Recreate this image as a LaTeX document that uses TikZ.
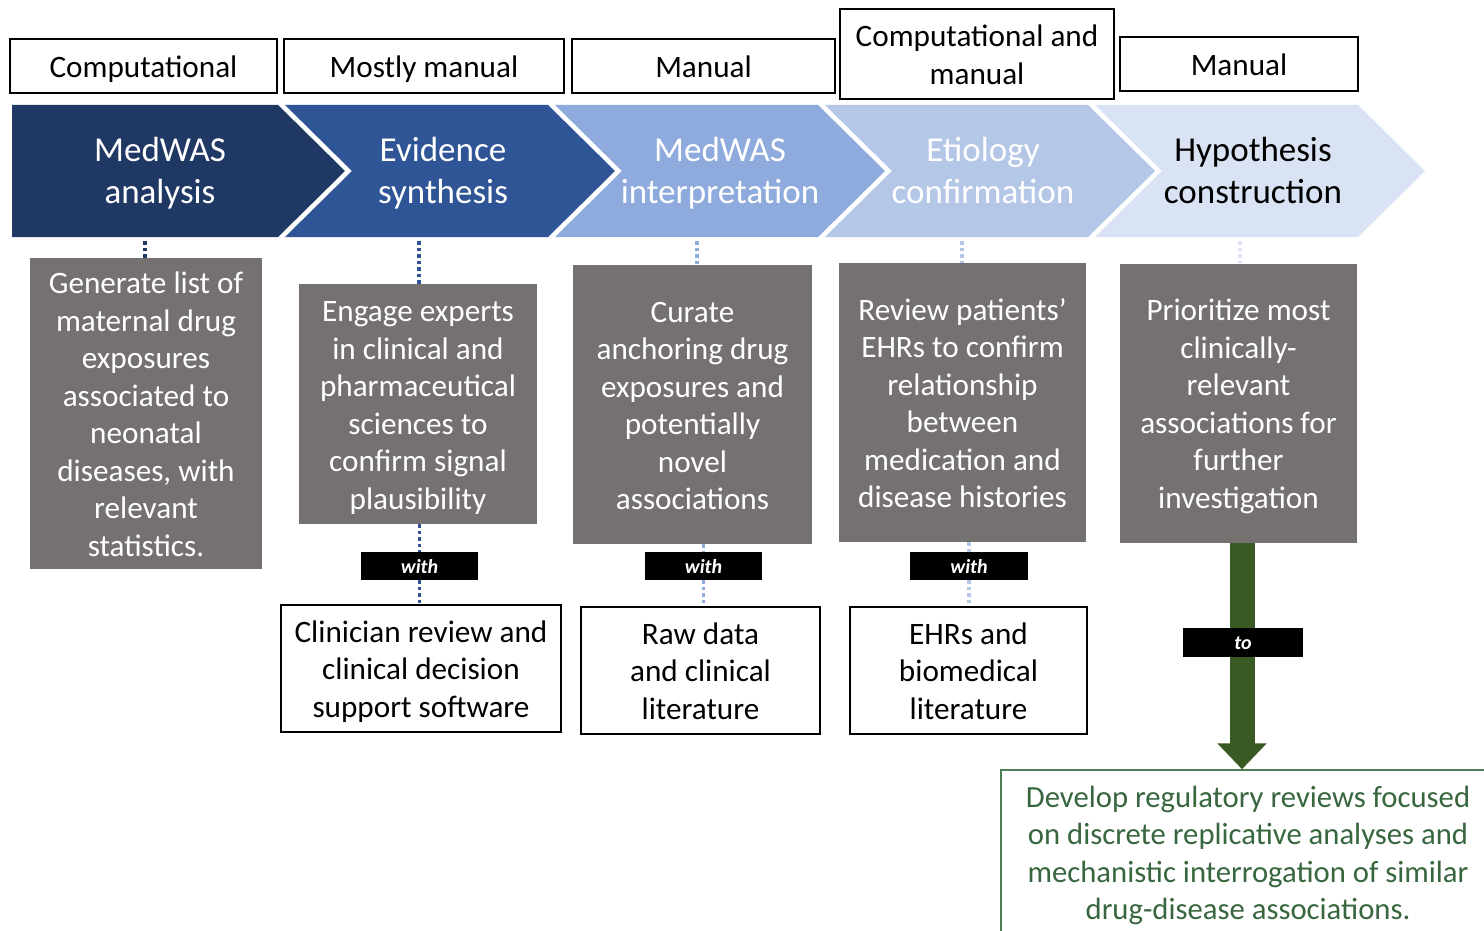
\documentclass[tikz,border=0pt]{standalone}
\usepackage{fontspec}
\setmainfont{Carlito}
\usetikzlibrary{arrows.meta}
\definecolor{chA}{HTML}{203864}
\definecolor{chB}{HTML}{2F5597}
\definecolor{chC}{HTML}{8FAADC}
\definecolor{chD}{HTML}{B4C7E7}
\definecolor{chE}{HTML}{DAE3F3}
\definecolor{graybox}{HTML}{767171}
\definecolor{arrowgreen}{HTML}{3A5A24}
\definecolor{textgreen}{HTML}{38663F}
\definecolor{bordergreen}{HTML}{4E7F52}
\newcommand{\Ta}{\rule{0pt}{34pt}}
\newcommand{\Tc}{\rule{0pt}{35.5pt}}
\newcommand{\Tt}{\rule{0pt}{21.5pt}}
\tikzset{
  bodyfont/.style={font=\fontsize{31.2}{37.5}\selectfont},
  hdr/.style={draw=black, line width=1.6pt, fill=white, align=center, bodyfont, inner sep=0pt},
  task/.style={fill=graybox, text=white, align=center, bodyfont, inner sep=0pt},
  res/.style={draw=black, line width=1.6pt, fill=white, align=center, bodyfont, inner sep=0pt},
  tag/.style={fill=black, text=white, font=\fontsize{20}{22}\selectfont\bfseries\itshape, minimum height=28pt, inner sep=0pt},
  chtext/.style={align=center, font=\fontsize{35}{42}\selectfont, inner sep=0pt},
  dots/.style={line width=3.5pt, dash pattern=on 3.5pt off 3pt},
  bigarrow/.style={draw=arrowgreen, line width=25pt, -{Triangle[width=48pt,length=26pt]}}
}
\begin{document}
\begin{tikzpicture}[x=1pt,y=-1pt]
\fill[white] (0,0) rectangle (1484,931);
\path[use as bounding box] (0,0) rectangle (1484,931);

% header boxes
\node[hdr, minimum width=267pt, minimum height=54pt] (h1) at (143.5,66) {\Ta Computational\strut};
\node[hdr, minimum width=280pt, minimum height=54pt] (h2) at (424,66) {\Ta Mostly manual\strut};
\node[hdr, minimum width=263pt, minimum height=54pt] (h3) at (703.5,66) {\Ta Manual\strut};
\node[hdr, minimum width=274pt, minimum height=90pt] (h4) at (977,54) {\Ta Computational and\\manual\strut};
\node[hdr, minimum width=238pt, minimum height=54pt] (h5) at (1239,64) {\Ta Manual\strut};

% chevrons
\fill[chA] (12,105) -- (278,105) -- (345,171) -- (278,237) -- (12,237) -- cycle;
\fill[chB] (285,105) -- (548,105) -- (615,171) -- (548,237) -- (285,237) -- (352,171) -- cycle;
\fill[chC] (555,105) -- (818,105) -- (885,171) -- (818,237) -- (555,237) -- (622,171) -- cycle;
\fill[chD] (825,105) -- (1088,105) -- (1155,171) -- (1088,237) -- (825,237) -- (892,171) -- cycle;
\fill[chE] (1095,105) -- (1358,105) -- (1425,171) -- (1358,237) -- (1095,237) -- (1162,171) -- cycle;

\node[chtext, text=white] (c1) at (160,171) {\Tc MedWAS\\analysis\strut};
\node[chtext, text=white] (c2) at (443,171) {\Tc Evidence\\synthesis\strut};
\node[chtext, text=white] (c3) at (720,171) {\Tc MedWAS\\interpretation\strut};
\node[chtext, text=white] (c4) at (983,171) {\Tc Etiology\\confirmation\strut};
\node[chtext, text=black] (c5) at (1253,171) {\Tc Hypothesis\\construction\strut};

\coordinate (cb1) at (145,241);
\coordinate (cb2) at (419,241);
\coordinate (cb3) at (697,241);
\coordinate (cb4) at (962,241);
\coordinate (cb5) at (1240,241);

% task boxes
\node[task, minimum width=232pt, minimum height=311pt] (g1) at (146,413.5)
  {\Ta Generate list of\\maternal drug\\exposures\\associated to\\neonatal\\diseases, with\\relevant\\statistics.\strut};
\node[task, minimum width=238pt, minimum height=240pt] (g2) at (418,404)
  {\Ta Engage experts\\in clinical and\\pharmaceutical\\sciences to\\confirm signal\\plausibility\strut};
\node[task, minimum width=239pt, minimum height=279pt] (g3) at (692.5,404.5)
  {\Ta Curate\\anchoring drug\\exposures and\\potentially\\novel\\associations\strut};
\node[task, minimum width=247pt, minimum height=279pt] (g4) at (962.5,402.5)
  {\Ta Review patients’\\EHRs to confirm\\relationship\\between\\medication and\\disease histories\strut};
\node[task, minimum width=237pt, minimum height=279pt] (g5) at (1238.5,403)
  {\Ta Prioritize most\\clinically-\\relevant\\associations for\\further\\investigation\strut};

% dotted connectors from chevrons
\draw[dots, chA] (cb1) -- (cb1 |- g1.north);
\draw[dots, chB] (cb2) -- (cb2 |- g2.north);
\draw[dots, chC] (cb3) -- (cb3 |- g3.north);
\draw[dots, chD] (cb4) -- (cb4 |- g4.north);
\draw[dots, chE] (cb5) -- (cb5 |- g5.north);

% tags
\node[tag, minimum width=117pt] (t1) at (419.5,566) {\Tt with\strut};
\node[tag, minimum width=117pt] (t2) at (703.5,566) {\Tt with\strut};
\node[tag, minimum width=118pt] (t3) at (969,566) {\Tt with\strut};

% resource boxes
\node[res, minimum width=280pt, minimum height=127pt] (w1) at (421,668.5)
  {\Ta Clinician review and\\clinical decision\\support software\strut};
\node[res, minimum width=239pt, minimum height=127pt] (w2) at (700.5,670.5)
  {\Ta Raw data\\and clinical\\literature\strut};
\node[res, minimum width=237pt, minimum height=127pt] (w3) at (968.5,670.5)
  {\Ta EHRs and\\biomedical\\literature\strut};

\draw[dots, chB] (t1.north |- g2.south) -- (t1.north);
\draw[dots, chB] (t1.south) -- (t1.south |- w1.north);
\draw[dots, chC] (t2.north |- g3.south) -- (t2.north);
\draw[dots, chC] (t2.south) -- (t2.south |- w2.north);
\draw[dots, chD] (t3.north |- g4.south) -- (t3.north);
\draw[dots, chD] (t3.south) -- (t3.south |- w3.north);

% outcome box
\node[draw=bordergreen, line width=1.5pt, text=textgreen, align=center,
      font=\fontsize{30.7}{37.5}\selectfont,
      minimum width=494pt, minimum height=164pt, inner sep=0pt] (dev) at (1248,852)
  {\Ta Develop regulatory reviews focused\\on discrete replicative analyses and\\mechanistic interrogation of similar\\drug-disease associations.\strut};

\coordinate (atop) at ([xshift=3.5pt]g5.south);
\draw[bigarrow] (atop) -- (atop |- dev.north);
\node[tag, minimum width=120pt, minimum height=29pt] (to) at (1243,642.5) {\Tt to\strut};
\end{tikzpicture}
\end{document}
